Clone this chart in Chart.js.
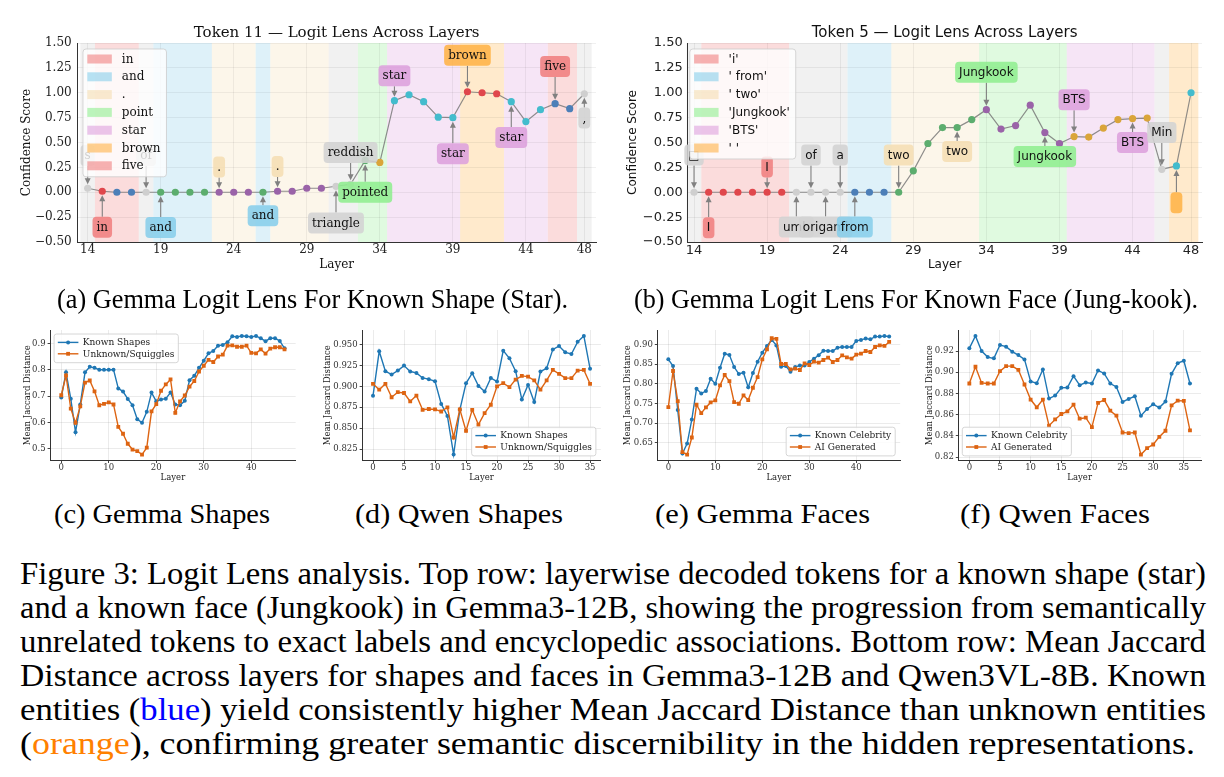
<!DOCTYPE html>
<html><head><meta charset="utf-8">
<script src="https://cdn.jsdelivr.net/npm/chart.js@4.4.1/dist/chart.umd.min.js"></script>
<style>
html,body{margin:0;padding:0;background:#fff;}
body{width:1224px;height:777px;position:relative;overflow:hidden;}
canvas{position:absolute;}
.cap{position:absolute;white-space:nowrap;font-family:"Liberation Serif";color:#000;transform-origin:0 50%;}
</style></head><body>
<canvas id="cA" width="612" height="285" style="left:0;top:0"></canvas>
<canvas id="cB" width="612" height="285" style="left:612px;top:0"></canvas>
<canvas id="cC" width="300" height="165" style="left:0;top:320px"></canvas>
<canvas id="cD" width="306" height="165" style="left:300px;top:320px"></canvas>
<canvas id="cE" width="302" height="165" style="left:606px;top:320px"></canvas>
<canvas id="cF" width="316" height="165" style="left:908px;top:320px"></canvas>
<script>
// ================= DATA =================
const lensLayers = [14,15,16,17,18,19,20,21,22,23,24,25,26,27,28,29,30,31,32,33,34,35,36,37,38,39,40,41,42,43,44,45,46,47,48];
const lensXTicks = [14,19,24,29,34,39,44,48];
const lensYTicks = [-0.5,-0.25,0,0.25,0.5,0.75,1,1.25,1.5];

const scoresA = [0.04,0.01,0,0,0,0,0,0,0,0, 0,0,0,0.01,0.01,0.04,0.04,0.06,0.08,0.32, 0.30,0.92,0.98,0.91,0.755,0.75,1.01,1.0,0.99,0.91, 0.71,0.83,0.89,0.84,0.99];
const legendA = ['in','and','.','point','star','brown','five'];
const spanTokA = ['other','in','in','in','other','and','and','and','and','.','.','.','and','.','.','.','.','other','other','point','point','star','star','star','star','star','brown','brown','brown','star','star','star','five','five','other'];
const noteLayersA = [14,15,18,19,23,26,27,31,32,33,35,39,40,43,46,48];
const noteTextsA = ['s','in','of','and','.','and','.','triangle','reddish','pointed','star','star','brown','star','five',','];

const scoresB = [0,0,0,0,0,0,0,0,0,0, 0,0,0,0,0,0.215,0.49,0.65,0.65,0.73, 0.83,0.635,0.67,0.875,0.60,0.49,0.56,0.555,0.645,0.73, 0.74,0.745,0.23,0.265,1.0];
const legendB = ["'i'","' from'","' two'","'Jungkook'","'BTS'","' '"];
const spanTokB = ['other',"'i'","'i'","'i'","'i'","'i'","'i'",'other','other','other','other',"' from'","' from'","' from'","' two'","' two'","' two'","' two'","' two'","' two'","'Jungkook'","'Jungkook'","'Jungkook'","'Jungkook'","'Jungkook'","'Jungkook'","'BTS'","'BTS'","'BTS'","'BTS'","'BTS'","'BTS'",'other',"' '","' '"];
const noteLayersB = [14,15,19,21,22,23,24,25,28,32,34,38,40,44,46,47];
const noteTextsB = ['\u25A1','I','I','umb','of','origami','a','from','two','two','Jungkook','Jungkook','BTS','BTS','Min',' '];

const layers48 = [0,1,2,3,4,5,6,7,8,9,10,11,12,13,14,15,16,17,18,19,20,21,22,23,24,25,26,27,28,29,30,31,32,33,34,35,36,37,38,39,40,41,42,43,44,45,46,47];
const layers36 = [0,1,2,3,4,5,6,7,8,9,10,11,12,13,14,15,16,17,18,19,20,21,22,23,24,25,26,27,28,29,30,31,32,33,34,35];
const layers37 = [0,1,2,3,4,5,6,7,8,9,10,11,12,13,14,15,16,17,18,19,20,21,22,23,24,25,26,27,28,29,30,31,32,33,34,35,36];

const gemmaShapesKnown = [0.694,0.790,0.690,0.563,0.668,0.790,0.811,0.807,0.800,0.800,0.800,0.800,0.729,0.717,0.689,0.665,0.612,0.599,0.640,0.713,0.680,0.687,0.690,0.713,0.668,0.665,0.682,0.760,0.777,0.807,0.834,0.862,0.871,0.891,0.894,0.904,0.927,0.924,0.928,0.927,0.924,0.928,0.919,0.908,0.919,0.919,0.909,0.881];
const gemmaShapesUnknown = [0.703,0.778,0.652,0.598,0.661,0.751,0.759,0.718,0.665,0.670,0.676,0.668,0.583,0.557,0.519,0.497,0.491,0.478,0.504,0.642,0.669,0.720,0.744,0.763,0.636,0.680,0.702,0.736,0.757,0.793,0.815,0.837,0.829,0.850,0.857,0.891,0.892,0.887,0.887,0.891,0.864,0.862,0.877,0.861,0.880,0.885,0.885,0.877];
const qwenShapesKnown = [0.8887,0.9417,0.918,0.914,0.9187,0.9247,0.9176,0.916,0.910,0.9085,0.906,0.879,0.8646,0.8187,0.872,0.9035,0.9156,0.9005,0.8938,0.910,0.9057,0.9425,0.9334,0.918,0.8843,0.9017,0.8812,0.9176,0.9215,0.944,0.948,0.9405,0.9385,0.953,0.960,0.921];
const qwenShapesUnknown = [0.903,0.896,0.903,0.887,0.893,0.892,0.882,0.889,0.872,0.873,0.8725,0.870,0.875,0.839,0.8725,0.8468,0.872,0.8543,0.868,0.878,0.900,0.9037,0.899,0.908,0.9124,0.9116,0.907,0.896,0.907,0.9195,0.9148,0.9097,0.9097,0.9187,0.9195,0.903];
const gemmaFacesKnown = [0.8626,0.8456,0.7333,0.6228,0.6483,0.7095,0.7878,0.7759,0.7818,0.8133,0.8005,0.8413,0.877,0.8736,0.843,0.8252,0.8286,0.7912,0.8277,0.8566,0.8796,0.8966,0.912,0.898,0.8439,0.8456,0.8311,0.843,0.847,0.847,0.8558,0.8643,0.8728,0.8847,0.8838,0.8838,0.8923,0.894,0.894,0.894,0.9094,0.912,0.9153,0.9136,0.9204,0.9204,0.9221,0.9204];
const gemmaFacesAI = [0.741,0.8328,0.7563,0.6262,0.6202,0.6636,0.7469,0.7257,0.7401,0.7529,0.758,0.7963,0.8226,0.8073,0.7537,0.7495,0.7707,0.7588,0.7903,0.8175,0.8626,0.8881,0.9162,0.9145,0.8507,0.8507,0.8371,0.8388,0.8354,0.8524,0.8481,0.8566,0.8541,0.8609,0.8668,0.8558,0.8609,0.8728,0.8677,0.8643,0.8745,0.877,0.8838,0.8813,0.894,0.8983,0.8966,0.9068];
const qwenFacesKnown = [0.9225,0.9342,0.920,0.9143,0.9131,0.9257,0.9241,0.9194,0.9162,0.9121,0.8913,0.8897,0.9027,0.8752,0.878,0.8853,0.8856,0.8963,0.8878,0.8903,0.8894,0.9017,0.8989,0.8894,0.8862,0.872,0.8749,0.8774,0.8591,0.8654,0.8698,0.8667,0.8724,0.8985,0.9086,0.9108,0.8894];
const qwenFacesAI = [0.8894,0.9052,0.890,0.8894,0.8894,0.9011,0.9058,0.9058,0.9023,0.8885,0.8743,0.867,0.8743,0.8497,0.8556,0.8607,0.8632,0.8695,0.8563,0.8572,0.8484,0.8711,0.8739,0.8638,0.8591,0.8433,0.8427,0.8433,0.8225,0.8285,0.832,0.8392,0.8449,0.8689,0.8733,0.873,0.8452];

const xTicks48 = [0,10,20,30,40];
const xTicks36 = [0,5,10,15,20,25,30,35];
const yTicksC = [0.5,0.6,0.7,0.8,0.9];
const yTicksD = [0.825,0.85,0.875,0.9,0.925,0.95];
const yTicksE = [0.65,0.7,0.75,0.8,0.85,0.9];
const yTicksF = [0.82,0.84,0.86,0.88,0.9,0.92];

const subCaptions = ['(a) Gemma Logit Lens For Known Shape (Star).','(b) Gemma Logit Lens For Known Face (Jung-kook).','(c) Gemma Shapes','(d) Qwen Shapes','(e) Gemma Faces','(f) Qwen Faces'];
const captionLines = [
 'Figure 3: Logit Lens analysis. Top row: layerwise decoded tokens for a known shape (star)',
 'and a known face (Jungkook) in Gemma3-12B, showing the progression from semantically',
 'unrelated tokens to exact labels and encyclopedic associations. Bottom row: Mean Jaccard',
 'Distance across layers for shapes and faces in Gemma3-12B and Qwen3VL-8B. Known',
 'entities (<span style="color:#0000ff">blue</span>) yield consistently higher Mean Jaccard Distance than unknown entities',
 '(<span style="color:#ff8000">orange</span>), confirming greater semantic discernibility in the hidden representations.'
];

// ================= STYLES =================
const DOT = {grey:'#cfcfcf', red:'#e0474c', blue:'#4c7fb8', green:'#5cad6e', purple:'#9a63a8', cyan:'#43bccd', gold:'#daa53a'};
const PAL = {red:'#f08080', blue:'#87ceeb', wheat:'#f5deb3', green:'#90ee90', plum:'#dda0dd', orange:'#ffb347', grey:'#d3d3d3'};
const dotsA = ['grey','red','blue','blue','grey','green','green','green','green','purple','purple','purple','green','purple','purple','purple','purple','grey','grey','green','gold','cyan','cyan','cyan','cyan','cyan','red','red','red','cyan','cyan','cyan','blue','blue','grey'];
const dotsB = ['grey','red','red','red','red','red','red','grey','grey','grey','grey','blue','blue','blue','green','green','green','green','green','green','purple','purple','purple','purple','purple','purple','gold','gold','gold','gold','gold','gold','grey','cyan','cyan'];
const tokColA = {'in':PAL.red,'and':PAL.blue,'.':PAL.wheat,'point':PAL.green,'star':PAL.plum,'brown':PAL.orange,'five':PAL.red,'other':PAL.grey};
const tokColB = {"'i'":PAL.red,"' from'":PAL.blue,"' two'":PAL.wheat,"'Jungkook'":PAL.green,"'BTS'":PAL.plum,"' '":PAL.orange,'other':PAL.grey};
const noteColA = ['grey','red','grey','blue','wheat','blue','wheat','grey','grey','green','plum','plum','orange','plum','red','grey'];
const noteColB = ['grey','red','red','grey','grey','grey','grey','blue','wheat','wheat','green','green','plum','plum','grey','orange'];
const noteYA = [0.37,-0.352,0.37,-0.355,0.255,-0.235,0.26,-0.31,0.40,0.0,1.17,0.386,1.376,0.55,1.265,0.745];
const noteYB = [0.375,-0.356,0.255,-0.35,0.375,-0.35,0.375,-0.35,0.375,0.41,1.205,0.36,0.93,0.50,0.60,-0.105];

function rrect(ctx,x,y,w,h,r){ctx.beginPath();ctx.moveTo(x+r,y);ctx.arcTo(x+w,y,x+w,y+h,r);ctx.arcTo(x+w,y+h,x,y+h,r);ctx.arcTo(x,y+h,x,y,r);ctx.arcTo(x,y,x+w,y,r);ctx.closePath();}

function lensPlugin(o){
  return {
    id:'lensDeco',
    beforeDraw(chart){
      const {ctx, chartArea:a, scales:{x}} = chart;
      ctx.save();
      let i=0;
      while(i<o.layers.length){
        let j=i; while(j+1<o.layers.length && o.spans[j+1]===o.spans[i]) j++;
        const x0=x.getPixelForValue(o.layers[i]-0.5), x1=x.getPixelForValue(o.layers[j]+0.5);
        ctx.globalAlpha = o.spans[i]==='other'?0.33:0.28;
        ctx.fillStyle = o.tokCol[o.spans[i]];
        ctx.fillRect(x0,a.top,x1-x0,a.bottom-a.top);
        i=j+1;
      }
      ctx.restore();
    },
    afterDatasetsDraw(chart){
      const {ctx, scales:{x,y}} = chart;
      ctx.save();
      ctx.font = '12px "'+o.fam+'"';
      ctx.textAlign='center'; ctx.textBaseline='middle';
      o.noteLayers.forEach((L,k)=>{
        const idx = o.layers.indexOf(L);
        const px=x.getPixelForValue(L), py=y.getPixelForValue(o.scores[idx]), by=y.getPixelForValue(o.noteY[k]);
        const tw=ctx.measureText(o.noteTexts[k]).width;
        const w=tw+8, h=21;
        const above = by<py;
        const sy = above? by+h/2 : by-h/2;
        const ey = above? py-4 : py+4;
        const dir = above?1:-1;
        ctx.strokeStyle='#808080'; ctx.fillStyle='#808080'; ctx.lineWidth=1.1; ctx.globalAlpha=1;
        ctx.beginPath(); ctx.moveTo(px,sy); ctx.lineTo(px,ey-dir*4); ctx.stroke();
        ctx.beginPath(); ctx.moveTo(px,ey); ctx.lineTo(px-3,ey-dir*6); ctx.lineTo(px+3,ey-dir*6); ctx.closePath(); ctx.fill();
        ctx.globalAlpha=0.88; ctx.fillStyle=PAL[o.noteCol[k]];
        rrect(ctx,px-w/2,by-h/2,w,h,4); ctx.fill();
        ctx.globalAlpha=1; ctx.fillStyle='#111';
        ctx.fillText(o.noteTexts[k],px,by+0.5);
      });
      ctx.restore();
    },
    afterDraw(chart){
      const {ctx, chartArea:a} = chart;
      ctx.save();
      ctx.font='12px "'+o.fam+'"';
      const tws=o.legend.map(t=>ctx.measureText(t).width);
      const lx=a.left+o.legDx, ly=a.top+6, rowH=17.8, n=o.legend.length;
      const w=38.8+Math.max(...tws)+6, h=10+(n-1)*rowH+11;
      ctx.globalAlpha=0.8; ctx.fillStyle='#fff'; rrect(ctx,lx,ly,w,h,3); ctx.fill();
      ctx.globalAlpha=0.8; ctx.strokeStyle='#cccccc'; ctx.lineWidth=1; ctx.stroke();
      ctx.textAlign='left'; ctx.textBaseline='middle';
      o.legend.forEach((t,i)=>{
        const cy=ly+10+i*rowH;
        ctx.globalAlpha=0.6; ctx.fillStyle=o.tokCol[t]; ctx.fillRect(lx+4.3,cy-4.5,24.5,9);
        ctx.globalAlpha=1; ctx.fillStyle='#111'; ctx.fillText(t,lx+38.8,cy+0.5);
      });
      ctx.restore();
    }
  };
}

function lensChart(id,o){
  const fam=o.fam;
  return new Chart(document.getElementById(id),{
    type:'line',
    data:{datasets:[{data:o.layers.map((l,i)=>({x:l,y:o.scores[i]})),borderColor:'rgba(115,115,115,0.8)',borderWidth:1.2,tension:0,
      pointRadius:3.6,pointBackgroundColor:o.dots.map(c=>DOT[c]),pointBorderWidth:0,pointHoverRadius:3.6}]},
    options:{responsive:false,animation:false,events:[],
      layout:{padding:{left:0,right:o.padR,top:0,bottom:0}},
      plugins:{legend:{display:false},tooltip:{enabled:false},
        title:{display:true,text:o.title,fullSize:false,color:'#111',font:{family:fam,size:15,weight:'normal',lineHeight:1.2},padding:{top:24,bottom:1}}},
      scales:{
        x:{type:'linear',min:o.xMin,max:o.xMax,
          afterBuildTicks:s=>{s.ticks=lensXTicks.map(v=>({value:v}));},
          afterFit:s=>{s.height=43;},
          ticks:{font:{family:fam,size:o.tick},color:'#222',padding:1,autoSkip:false,maxRotation:0,callback:v=>String(v)},
          grid:{color:'rgba(0,0,0,0.06)',drawTicks:false},
          border:{display:true,color:'#333',width:1},
          title:{display:true,text:'Layer',color:'#111',font:{family:fam,size:12,lineHeight:1.2},padding:{top:0,bottom:12.8}}},
        y:{min:-0.5,max:1.5,
          afterBuildTicks:s=>{s.ticks=lensYTicks.map(v=>({value:v}));},
          afterFit:s=>{s.width=o.yW;},
          ticks:{font:{family:fam,size:o.tick},color:'#222',padding:o.yPad,callback:v=>(v<0?'\u2212':'')+Math.abs(v).toFixed(2)},
          grid:{color:'rgba(0,0,0,0.06)',drawTicks:false},
          border:{display:true,color:'#333',width:1},
          title:{display:true,text:'Confidence Score',color:'#111',font:{family:fam,size:12,lineHeight:1.2},padding:{top:o.yTitle,bottom:0}}}
      }},
    plugins:[lensPlugin(o)]
  });
}

lensChart('cA',{fam:'DejaVu Serif',title:'Token 11 \u2014 Logit Lens Across Layers',layers:lensLayers,scores:scoresA,dots:dotsA,spans:spanTokA,tokCol:tokColA,
  legend:legendA,noteLayers:noteLayersA,noteTexts:noteTextsA,noteY:noteYA,noteCol:noteColA,
  xMin:13.29,xMax:48.8,padR:16,yW:77.3,yPad:5.6,yTitle:20.1,tick:12,legDx:5.7});
lensChart('cB',{fam:'DejaVu Sans',title:'Token 5 \u2014 Logit Lens Across Layers',layers:lensLayers,scores:scoresB,dots:dotsB,spans:spanTokB,tokCol:tokColB,
  legend:legendB,noteLayers:noteLayersB,noteTexts:noteTextsB,noteY:noteYB,noteCol:noteColB,
  xMin:13.54,xMax:48.75,padR:22,yW:75.3,yPad:4.6,yTitle:13.5,tick:13,legDx:2.5});

const BLUE='#1f77b4', ORANGE='#dd6412';
function lineLegend(g){
  return {id:'lineLegend',afterDraw(chart){
    const {ctx,chartArea:a}=chart; const ds=chart.data.datasets;
    ctx.save(); ctx.font='9px "DejaVu Serif"';
    const tw=Math.max(...ds.map(d=>ctx.measureText(d.label).width));
    const w=28.7+tw+4, h=28.7;
    const left = g.corner==='lr'? a.right-5-w : a.left+4;
    const top = g.corner==='ul'? a.top+4 : a.bottom-4.6-h;
    ctx.globalAlpha=0.85; ctx.fillStyle='#fff'; rrect(ctx,left,top,w,h,2.5); ctx.fill();
    ctx.strokeStyle='#cfcfcf'; ctx.lineWidth=1; ctx.stroke(); ctx.globalAlpha=1;
    ds.forEach((d,i)=>{
      const cy=top+8.4+i*11.4;
      ctx.strokeStyle=d.borderColor; ctx.lineWidth=1.4; ctx.beginPath(); ctx.moveTo(left+3.7,cy); ctx.lineTo(left+24.3,cy); ctx.stroke();
      ctx.fillStyle=d.borderColor; const mx=left+14;
      if(d.pointStyle==='rect'){ctx.fillRect(mx-1.9,cy-1.9,3.8,3.8);} else {ctx.beginPath();ctx.arc(mx,cy,2,0,Math.PI*2);ctx.fill();}
      ctx.fillStyle='#222'; ctx.textAlign='left'; ctx.textBaseline='middle'; ctx.fillText(d.label,left+28.7,cy+0.5);
    });
    ctx.restore();
  }};
}
function jaccardChart(id,layers,known,other,names,g){
  const fam='DejaVu Serif';
  return new Chart(document.getElementById(id),{
    type:'line',
    data:{datasets:[
      {label:names[0],data:layers.map((l,i)=>({x:l,y:known[i]})),borderColor:BLUE,backgroundColor:BLUE,pointBackgroundColor:BLUE,pointBorderWidth:0,pointRadius:2,pointStyle:'circle',borderWidth:1.4,tension:0,order:1},
      {label:names[1],data:layers.map((l,i)=>({x:l,y:other[i]})),borderColor:ORANGE,backgroundColor:ORANGE,pointBackgroundColor:ORANGE,pointBorderWidth:0,pointRadius:2.7,pointStyle:'rect',borderWidth:1.4,tension:0,order:0}
    ]},
    options:{responsive:false,animation:false,events:[],
      layout:{padding:{left:0,right:g.padR,top:10,bottom:0}},
      plugins:{legend:{display:false},tooltip:{enabled:false}},
      scales:{
        x:{type:'linear',min:g.xMin,max:g.xMax,
          afterBuildTicks:s=>{s.ticks=g.xTicks.map(v=>({value:v}));},
          afterFit:s=>{s.height=24.5;},
          ticks:{font:{family:fam,size:8.5},color:'#333',padding:0,autoSkip:false,maxRotation:0,callback:v=>String(v)},
          grid:{color:'rgba(0,0,0,0.08)',tickColor:'#444',tickLength:2.5},
          border:{display:true,color:'#333',width:1},
          title:{display:true,text:'Layer',color:'#222',font:{family:fam,size:8.5,lineHeight:1.2},padding:{top:0,bottom:2.6}}},
        y:{min:g.yMin,max:g.yMax,
          afterBuildTicks:s=>{s.ticks=g.yTicks.map(v=>({value:v}));},
          afterFit:s=>{s.width=g.yW;},
          ticks:{font:{family:fam,size:8.5},color:'#333',padding:2,callback:v=>v.toFixed(g.dec)},
          grid:{color:'rgba(0,0,0,0.08)',tickColor:'#444',tickLength:2.5},
          border:{display:true,color:'#333',width:1},
          title:{display:true,text:'Mean Jaccard Distance',color:'#222',font:{family:fam,size:8.5,lineHeight:1.2},padding:{top:g.yTitle,bottom:0}}}
      }},
    plugins:[lineLegend(g)]
  });
}
jaccardChart('cC',layers48,gemmaShapesKnown,gemmaShapesUnknown,['Known Shapes','Unknown/Squiggles'],
  {xMin:-2.35,xMax:49.35,yMin:0.4555,yMax:0.9505,xTicks:xTicks48,yTicks:yTicksC,dec:1,yW:50.1,padR:4.3,yTitle:22.6,corner:'ul'});
jaccardChart('cD',layers36,qwenShapesKnown,qwenShapesUnknown,['Known Shapes','Unknown/Squiggles'],
  {xMin:-1.75,xMax:36.75,yMin:0.8116,yMax:0.9671,xTicks:xTicks36,yTicks:yTicksD,dec:3,yW:62.15,padR:5.1,yTitle:22.9,corner:'lr'});
jaccardChart('cE',layers48,gemmaFacesKnown,gemmaFacesAI,['Known Celebrity','AI Generated'],
  {xMin:-2.35,xMax:49.35,yMin:0.6051,yMax:0.9372,xTicks:xTicks48,yTicks:yTicksE,dec:2,yW:51.3,padR:7.8,yTitle:16.9,corner:'lr'});
jaccardChart('cF',layers37,qwenFacesKnown,qwenFacesAI,['Known Celebrity','AI Generated'],
  {xMin:-1.8,xMax:37.8,yMin:0.8169,yMax:0.9398,xTicks:xTicks36,yTicks:yTicksF,dec:2,yW:50.3,padR:23,yTitle:16.2,corner:'ll'});

function fitText(html,left,top,width,size,lh){
  const d=document.createElement('div'); d.className='cap'; d.innerHTML=html;
  d.style.fontSize=size+'px'; d.style.lineHeight=lh+'px'; d.style.left=left+'px'; d.style.top=top+'px';
  document.body.appendChild(d);
  const nat=d.getBoundingClientRect().width;
  d.style.transform='scaleX('+(width/nat)+')';
}
const subPos=[[57,511,284],[634,564,284],[54,216,499],[355,208,499],[655,215,499],[960,190,499]];
subCaptions.forEach((t,i)=>fitText(t,subPos[i][0],subPos[i][2],subPos[i][1],26.5,30));
captionLines.forEach((t,i)=>fitText(t,20,557+34*i,i<5?1186:1175,31,34));
</script>
</body></html>
